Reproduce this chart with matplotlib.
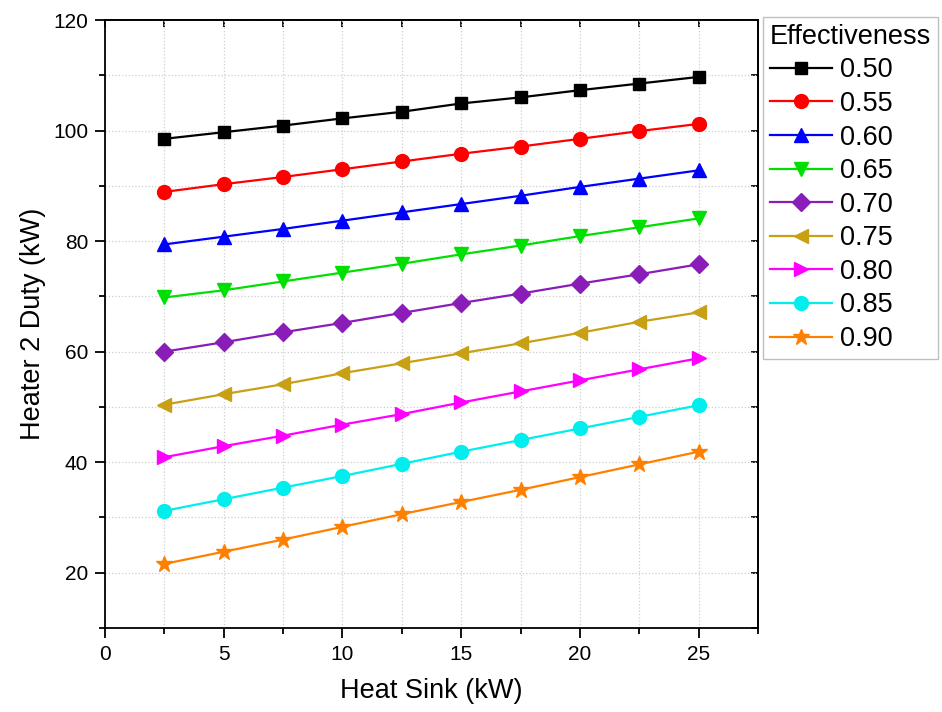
import numpy as np
import matplotlib
matplotlib.use("Agg")
from matplotlib import pyplot as plt
from matplotlib.ticker import MultipleLocator

plt.rcParams["font.family"] = ["Liberation Sans", "DejaVu Sans"]

# data
heat_sink = [2.5, 5, 7.5, 10, 12.5, 15, 17.5, 20, 22.5, 25]

eff_050 = [98.5, 99.7, 100.9, 102.2, 103.4, 104.9, 106.0, 107.3, 108.5, 109.7]
eff_055 = [88.9, 90.3, 91.6, 93.0, 94.4, 95.8, 97.1, 98.5, 99.9, 101.2]
eff_060 = [79.4, 80.8, 82.2, 83.7, 85.2, 86.7, 88.2, 89.8, 91.3, 92.8]
eff_065 = [69.8, 71.1, 72.7, 74.3, 75.9, 77.6, 79.2, 80.9, 82.5, 84.1]
eff_070 = [60.0, 61.7, 63.5, 65.2, 67.0, 68.8, 70.5, 72.3, 74.0, 75.8]
eff_075 = [50.4, 52.3, 54.1, 56.1, 57.9, 59.7, 61.5, 63.4, 65.4, 67.1]
eff_080 = [40.9, 42.9, 44.8, 46.8, 48.7, 50.8, 52.8, 54.8, 56.8, 58.8]
eff_085 = [31.2, 33.3, 35.4, 37.5, 39.7, 41.9, 44.0, 46.1, 48.2, 50.3]
eff_090 = [21.6, 23.8, 26.0, 28.3, 30.6, 32.8, 35.0, 37.3, 39.6, 41.9]

labels = ["0.50", "0.55", "0.60", "0.65", "0.70", "0.75", "0.80", "0.85", "0.90"]
series = [eff_050, eff_055, eff_060, eff_065, eff_070, eff_075, eff_080, eff_085, eff_090]

colors  = ["#000000", "#FF0000", "#0000FF", "#00E000", "#8A1CB8",
           "#C8A014", "#FF00FF", "#00EEEE", "#FF8000"]
markers = ["s", "o", "^", "v", "D", "<", ">", "o", "*"]
msizes  = [9, 10, 10, 10, 9, 10, 10, 10, 12]

fig = plt.figure(figsize=(9.42, 7.12), dpi=100)
ax = fig.add_axes([105 / 942, 84 / 712, 653 / 942, 608 / 712])

for y, lab, c, m, ms in zip(series, labels, colors, markers, msizes):
    ax.plot(heat_sink, y, color=c, marker=m, ms=ms, lw=1.6, label=lab)

ax.set_xlim(0, 27.5)
ax.set_ylim(10, 120)
ax.xaxis.set_major_locator(MultipleLocator(5))
ax.xaxis.set_minor_locator(MultipleLocator(2.5))
ax.yaxis.set_major_locator(MultipleLocator(20))
ax.yaxis.set_minor_locator(MultipleLocator(10))
ax.set_yticks([20, 40, 60, 80, 100, 120])

ax.grid(which="both", color="#cfcfcf", linestyle=":", lw=0.9)
ax.set_axisbelow(True)

for s in ax.spines.values():
    s.set_linewidth(1.3)

ax.tick_params(which="major", direction="out", length=7, width=1.3,
               labelsize=15, pad=5)
ax.tick_params(which="minor", direction="out", length=4, width=1.3)

# mirrored inward ticks on top and right
axt = ax.secondary_xaxis("top")
axt.xaxis.set_major_locator(MultipleLocator(5))
axt.xaxis.set_minor_locator(MultipleLocator(2.5))
axt.tick_params(which="both", direction="in", length=5, width=1.3, labeltop=False)
axr = ax.secondary_yaxis("right")
axr.yaxis.set_major_locator(MultipleLocator(20))
axr.yaxis.set_minor_locator(MultipleLocator(10))
axr.tick_params(which="both", direction="in", length=5, width=1.3, labelright=False)
axt.spines["top"].set_linewidth(1.3)
axr.spines["right"].set_linewidth(1.3)

ax.set_xlabel("Heat Sink (kW)", fontsize=19.5, labelpad=10)
ax.set_ylabel("Heater 2 Duty (kW)", fontsize=19.5, labelpad=5)

leg = fig.legend(loc="upper left", bbox_to_anchor=(763 / 942, 1 - 17 / 712),
                 title="Effectiveness", fontsize=19.5, title_fontsize=19.5,
                 handlelength=2.3, handletextpad=0.3, labelspacing=0.28,
                 borderpad=0.25, borderaxespad=0, fancybox=False,
                 frameon=True, edgecolor="#b0b0b0")
leg.get_frame().set_linewidth(1.0)
leg._legend_box.align = "left"

fig.savefig("out.png", dpi=100)
